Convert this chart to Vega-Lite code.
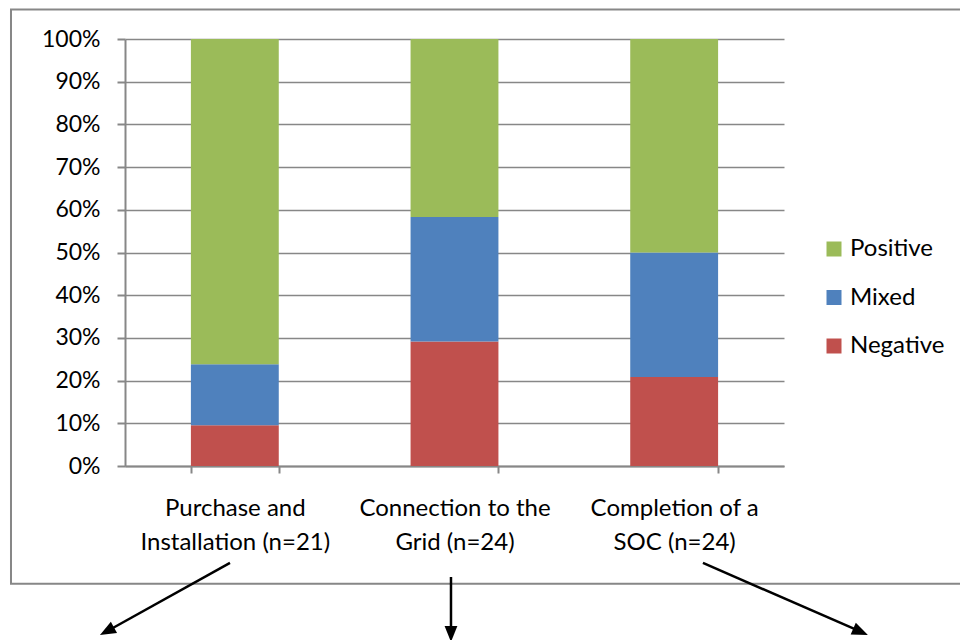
{
  "$schema": "https://vega.github.io/schema/vega-lite/v6.json",
  "width": 659,
  "height": 427,
  "autosize": {"type": "none"},
  "padding": {"left": 125, "top": 39, "right": 176, "bottom": 174},
  "background": "white",
  "config": {
    "view": {"stroke": null},
    "font": "Lato",
    "axis": {"labelFont": "Lato", "labelColor": "#000000"},
    "legend": {"labelFont": "Lato", "labelColor": "#000000"}
  },
  "datasets": {
    "responses": [
      {"activity": "Purchase and Installation (n=21)", "rating": "Negative", "score": -1, "count": 2},
      {"activity": "Purchase and Installation (n=21)", "rating": "Mixed", "score": 0, "count": 3},
      {"activity": "Purchase and Installation (n=21)", "rating": "Positive", "score": 1, "count": 16},
      {"activity": "Connection to the Grid (n=24)", "rating": "Negative", "score": -1, "count": 7},
      {"activity": "Connection to the Grid (n=24)", "rating": "Mixed", "score": 0, "count": 7},
      {"activity": "Connection to the Grid (n=24)", "rating": "Positive", "score": 1, "count": 10},
      {"activity": "Completion of a SOC (n=24)", "rating": "Negative", "score": -1, "count": 5},
      {"activity": "Completion of a SOC (n=24)", "rating": "Mixed", "score": 0, "count": 7},
      {"activity": "Completion of a SOC (n=24)", "rating": "Positive", "score": 1, "count": 12}
    ],
    "frame": [
      {"left": -0.519, "right": 3.824, "bottom": -0.276, "top": 1.069}
    ],
    "arrows": [
      {"from_x": 0.478, "from_y": -0.227, "to_x": -0.082, "to_y": -0.387, "tip_x": -0.114, "tip_y": -0.396, "heading": 241},
      {"from_x": 1.484, "from_y": -0.260, "to_x": 1.484, "to_y": -0.393, "tip_x": 1.484, "tip_y": -0.412, "heading": 180},
      {"from_x": 2.631, "from_y": -0.227, "to_x": 3.349, "to_y": -0.388, "tip_x": 3.382, "tip_y": -0.396, "heading": 113.6}
    ]
  },
  "layer": [
    {
      "data": {"name": "frame"},
      "mark": {"type": "rect", "filled": false, "stroke": "#878787", "strokeWidth": 2, "clip": false},
      "encoding": {
        "x": {"field": "left", "type": "quantitative", "scale": {"domain": [0, 3], "nice": false, "zero": false}, "axis": null},
        "x2": {"field": "right"},
        "y": {"field": "bottom", "type": "quantitative", "scale": {"domain": [0, 1], "nice": false, "zero": false}, "axis": null},
        "y2": {"field": "top"}
      }
    },
    {
      "data": {"name": "responses"},
      "mark": {"type": "bar"},
      "encoding": {
        "x": {
          "field": "activity",
          "type": "nominal",
          "sort": null,
          "scale": {"paddingInner": 0.6, "paddingOuter": 0.3},
          "axis": {
            "title": null,
            "labelAngle": 0,
            "tickBand": "extent",
            "domainColor": "#878787",
            "domainWidth": 2,
            "tickColor": "#878787",
            "tickWidth": 2,
            "tickSize": 7,
            "labelFontSize": 24,
            "labelLineHeight": 34,
            "labelPadding": 23,
            "labelLimit": 400,
            "labelExpr": "split(datum.label, regexp(' (?=[^ ]+ [(]n=)'))"
          }
        },
        "y": {
          "field": "count",
          "type": "quantitative",
          "stack": "normalize",
          "axis": {
            "title": null,
            "values": [0, 0.1, 0.2, 0.3, 0.4, 0.5, 0.6, 0.7, 0.8, 0.9, 1],
            "format": ".0%",
            "grid": true,
            "gridColor": "#878787",
            "gridWidth": 1.5,
            "domainColor": "#878787",
            "domainWidth": 2,
            "tickColor": "#878787",
            "tickWidth": 2,
            "tickSize": 8,
            "labelFontSize": 23,
            "labelPadding": 17
          }
        },
        "color": {
          "field": "rating",
          "type": "nominal",
          "scale": {"domain": ["Positive", "Mixed", "Negative"], "range": ["#9BBB59", "#4F81BD", "#C0504D"]},
          "legend": {
            "orient": "none",
            "legendX": 697,
            "legendY": 198,
            "title": null,
            "symbolType": "square",
            "symbolSize": 225,
            "symbolStrokeWidth": 0,
            "symbolOpacity": 1,
            "labelFontSize": 24,
            "labelOffset": 4,
            "rowPadding": 24.5,
            "padding": 0
          }
        },
        "order": {"field": "score", "type": "quantitative", "sort": "ascending"}
      }
    },
    {
      "data": {"name": "arrows"},
      "mark": {"type": "rule", "color": "black", "strokeWidth": 2.5, "clip": false},
      "encoding": {
        "x": {"field": "from_x", "type": "quantitative", "scale": {"domain": [0, 3], "nice": false, "zero": false}, "axis": null},
        "x2": {"field": "to_x"},
        "y": {"field": "from_y", "type": "quantitative", "scale": {"domain": [0, 1], "nice": false, "zero": false}, "axis": null},
        "y2": {"field": "to_y"}
      }
    },
    {
      "data": {"name": "arrows"},
      "mark": {"type": "point", "shape": "M0,0L-0.8,2L0.8,2Z", "filled": true, "color": "black", "opacity": 1, "size": 256, "strokeWidth": 0, "clip": false},
      "encoding": {
        "x": {"field": "tip_x", "type": "quantitative", "scale": {"domain": [0, 3], "nice": false, "zero": false}, "axis": null},
        "y": {"field": "tip_y", "type": "quantitative", "scale": {"domain": [0, 1], "nice": false, "zero": false}, "axis": null},
        "angle": {"field": "heading", "type": "quantitative", "scale": null}
      }
    }
  ],
  "resolve": {"scale": {"x": "independent", "y": "independent", "color": "independent"}}
}
